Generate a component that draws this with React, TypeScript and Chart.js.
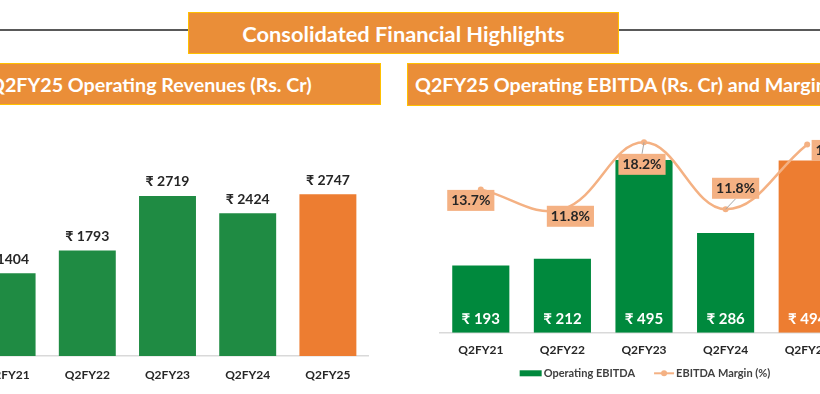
import React, { useEffect, useRef } from 'react';
import { Chart, registerables } from 'chart.js';

Chart.register(...registerables);

// ---- data ----
const categories = ['Q2FY21', 'Q2FY22', 'Q2FY23', 'Q2FY24', 'Q2FY25'];
const revenues = [1404, 1793, 2719, 2424, 2747];
const ebitda = [193, 212, 495, 286, 494];
const ebitdaMargin = [13.7, 11.8, 18.2, 11.8, 18.0];
const highlightIndex = 4;

const mainTitle = 'Consolidated Financial Highlights';
const leftTitle = 'Q2FY25 Operating Revenues (Rs. Cr)';
const rightTitle = 'Q2FY25 Operating EBITDA (Rs. Cr) and Margin';
const legendBar = 'Operating EBITDA';
const legendLine = 'EBITDA Margin (%)';

// ---- styles ----
const FONT = "Lato, 'Noto Sans', 'DejaVu Sans', sans-serif";
const GREEN_L = '#1F8B43';
const GREEN_R = '#00893D';
const ORANGE = '#ED7D31';
const PEACH = '#F4B183';
const BANNER = '#EA8E38';
const BANNER_BORDER = '#FFC000';
const TEXT = '#262626';

// offsets (dx, dy) of the margin label boxes from their points
const marginLabelOffsets: [number, number][] = [
  [-10, 11],
  [8, 7],
  [-2, 22],
  [10, -21],
  [28, 6],
];
const leaderLabels = [2, 3];

const revenueLabelPlugin = {
  id: 'revenueLabels',
  afterDatasetsDraw(chart: any) {
    const ctx = chart.ctx;
    const meta = chart.getDatasetMeta(0);
    const data = chart.data.datasets[0].data;
    ctx.save();
    ctx.font = `bold 14px ${FONT}`;
    ctx.fillStyle = TEXT;
    ctx.textAlign = 'center';
    ctx.textBaseline = 'middle';
    meta.data.forEach((bar: any, i: number) => {
      ctx.fillText('₹ ' + data[i], bar.x, bar.y - 14);
    });
    ctx.restore();
  },
};

const ebitdaLabelPlugin = {
  id: 'ebitdaLabels',
  afterDatasetsDraw(chart: any) {
    const ctx = chart.ctx;
    const lineMeta = chart.getDatasetMeta(0);
    const barMeta = chart.getDatasetMeta(1);
    const lineData = chart.data.datasets[0].data;
    const barData = chart.data.datasets[1].data;
    ctx.save();
    // bar value labels inside bars
    ctx.font = `bold 15px ${FONT}`;
    ctx.fillStyle = '#FFFFFF';
    ctx.textAlign = 'center';
    ctx.textBaseline = 'middle';
    barMeta.data.forEach((bar: any, i: number) => {
      ctx.fillText('₹ ' + barData[i], bar.x, bar.base - 14);
    });
    // margin labels
    ctx.font = `bold 14px ${FONT}`;
    lineMeta.data.forEach((pt: any, i: number) => {
      const [dx, dy] = marginLabelOffsets[i];
      const text = Number(lineData[i]).toFixed(1) + '%';
      const w = ctx.measureText(text).width + 8;
      const h = 21;
      const cx = pt.x + dx;
      const cy = pt.y + dy;
      if (leaderLabels.includes(i)) {
        ctx.strokeStyle = '#A6A6A6';
        ctx.lineWidth = 1;
        ctx.beginPath();
        ctx.moveTo(pt.x, pt.y);
        ctx.lineTo(cx, dy > 0 ? cy - h / 2 : cy + h / 2);
        ctx.stroke();
      }
      ctx.fillStyle = PEACH;
      ctx.fillRect(cx - w / 2, cy - h / 2, w, h);
      ctx.fillStyle = TEXT;
      ctx.fillText(text, cx, cy + 0.5);
    });
    ctx.restore();
  },
  afterDraw(chart: any) {
    // legend below the category axis
    const ctx = chart.ctx;
    const xScale = chart.scales.x;
    const y = xScale.bottom + 5.6;
    ctx.save();
    ctx.font = `bold 11px ${FONT}`;
    ctx.textBaseline = 'middle';
    ctx.textAlign = 'left';
    const w1 = ctx.measureText(legendBar).width;
    const w2 = ctx.measureText(legendLine).width;
    const sw1 = 22;
    const sw2 = 20;
    const gap = 2;
    const spacing = 19;
    const total = sw1 + gap + w1 + spacing + sw2 + gap + w2;
    let x = chart.width / 2 - total / 2;
    ctx.fillStyle = GREEN_R;
    ctx.fillRect(x, y - 3, sw1, 6);
    x += sw1 + gap;
    ctx.fillStyle = '#404040';
    ctx.fillText(legendBar, x, y);
    x += w1 + spacing;
    ctx.strokeStyle = PEACH;
    ctx.lineWidth = 2;
    ctx.beginPath();
    ctx.moveTo(x, y);
    ctx.lineTo(x + sw2, y);
    ctx.stroke();
    ctx.fillStyle = PEACH;
    ctx.beginPath();
    ctx.arc(x + sw2 / 2, y, 3, 0, Math.PI * 2);
    ctx.fill();
    x += sw2 + gap;
    ctx.fillStyle = '#404040';
    ctx.fillText(legendLine, x, y);
    ctx.restore();
  },
};

const bannerStyle: React.CSSProperties = {
  position: 'absolute',
  boxSizing: 'border-box',
  background: BANNER,
  border: `1.5px solid ${BANNER_BORDER}`,
  color: '#FFFFFF',
  fontFamily: FONT,
  fontWeight: 700,
  fontSize: 19.7,
  display: 'flex',
  alignItems: 'center',
  whiteSpace: 'nowrap',
  overflow: 'hidden',
};

export default function App() {
  const leftRef = useRef<HTMLCanvasElement>(null);
  const rightRef = useRef<HTMLCanvasElement>(null);

  useEffect(() => {
    const left = new Chart(leftRef.current!, {
      type: 'bar',
      data: {
        labels: categories,
        datasets: [
          {
            label: 'Operating Revenues',
            data: revenues,
            backgroundColor: categories.map((_, i) => (i === highlightIndex ? ORANGE : GREEN_L)),
            barPercentage: 0.71,
            categoryPercentage: 1,
          },
        ],
      },
      options: {
        responsive: false,
        animation: false,
        events: [],
        layout: { padding: { left: 27, right: 32, top: 40, bottom: 11.6 } },
        plugins: { legend: { display: false }, tooltip: { enabled: false } },
        scales: {
          x: {
            grid: { display: false, drawTicks: false },
            border: { display: true, color: '#D9D9D9', width: 1.5 },
            ticks: { color: TEXT, font: { family: FONT, size: 12, weight: 'bold' }, padding: 12 },
          },
          y: { display: false, min: 0, max: 3500 },
        },
      },
      plugins: [revenueLabelPlugin],
    } as any);

    const right = new Chart(rightRef.current!, {
      type: 'bar',
      data: {
        labels: categories,
        datasets: [
          {
            type: 'line',
            label: legendLine,
            data: ebitdaMargin,
            yAxisID: 'y1',
            borderColor: PEACH,
            backgroundColor: PEACH,
            borderWidth: 2.5,
            pointRadius: 3,
            pointBackgroundColor: PEACH,
            pointBorderWidth: 0,
            tension: 0.4,
            order: 0,
            clip: false,
          },
          {
            type: 'bar',
            label: legendBar,
            data: ebitda,
            yAxisID: 'y',
            backgroundColor: categories.map((_, i) => (i === highlightIndex ? ORANGE : GREEN_R)),
            barPercentage: 0.7,
            categoryPercentage: 1,
            order: 1,
          },
        ],
      },
      options: {
        responsive: false,
        animation: false,
        events: [],
        layout: { padding: { left: 30, right: 32, top: 13.5, bottom: 26.3 } },
        plugins: {
          tooltip: { enabled: false },
          legend: { display: false },
        },
        scales: {
          x: {
            grid: { display: false, drawTicks: false },
            border: { display: true, color: '#D9D9D9', width: 1.5 },
            ticks: { color: TEXT, font: { family: FONT, size: 12, weight: 'bold' }, padding: 10.3 },
          },
          y: { display: false, min: 0, max: 600 },
          y1: { display: false, position: 'right', min: 0, max: 20 },
        },
      },
      plugins: [ebitdaLabelPlugin],
    } as any);

    return () => {
      left.destroy();
      right.destroy();
    };
  }, []);

  return (
    <div
      style={{
        position: 'fixed',
        left: 0,
        top: 0,
        width: 820,
        height: 394,
        overflow: 'hidden',
        background: '#FFFFFF',
      }}
    >
      <div style={{ position: 'absolute', left: 0, top: 29, width: 820, height: 2, background: '#595959' }} />
      <div style={{ ...bannerStyle, left: 188, top: 12, width: 431, height: 42, justifyContent: 'center', fontSize: 21.8 }}>
        {mainTitle}
      </div>
      <div style={{ ...bannerStyle, left: -20, top: 63, width: 401, height: 42, paddingLeft: 8 }}>
        {leftTitle}
      </div>
      <div style={{ ...bannerStyle, left: 407, top: 63, width: 500, height: 43, paddingLeft: 7 }}>
        {rightTitle}
      </div>
      <canvas ref={leftRef} width={460} height={296} style={{ position: 'absolute', left: -60, top: 110 }} />
      <canvas ref={rightRef} width={470} height={284} style={{ position: 'absolute', left: 410, top: 110 }} />
    </div>
  );
}
